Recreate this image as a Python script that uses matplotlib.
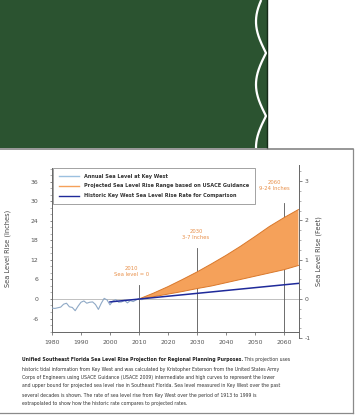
import numpy as np
import matplotlib
matplotlib.use("Agg")
import matplotlib.pyplot as plt
from matplotlib.lines import Line2D

# ---------------- data ----------------
annual_years = list(range(1980, 2013))
annual_vals = [-2.8, -2.9, -2.7, -2.5, -1.6, -1.3, -2.4, -2.6, -3.6, -2.2,
               -1.0, -0.6, -1.3, -1.0, -0.9, -1.7, -3.2, -1.3, 0.2, -0.3,
               -1.8, -0.6, -0.2, -1.0, -0.9, -0.4, -1.2, -0.5, -0.8, -0.3,
               0.1, -0.2, 0.3]

proj_years = [2010, 2015, 2020, 2025, 2030, 2035, 2040, 2045, 2050, 2055, 2060, 2065]
proj_low = [0, 0.7, 1.5, 2.3, 3.2, 4.0, 5.0, 6.0, 7.0, 8.0, 9.0, 10.3]
proj_high = [0, 1.8, 3.8, 6.0, 8.3, 10.8, 13.4, 16.2, 19.2, 22.3, 25.0, 27.5]

hist_years = [2000, 2065]
hist_vals = [-0.9, 4.8]

x_ticks = [1980, 1990, 2000, 2010, 2020, 2030, 2040, 2050, 2060]
y_ticks_in = [-6, 0, 6, 12, 18, 24, 30, 36]
y_ticks_ft = [-1, 0, 1, 2, 3]

legend_labels = ["Annual Sea Level at Key West",
                 "Projected Sea Level Rise Range based on USACE Guidance",
                 "Historic Key West Sea Level Rise Rate for Comparison"]

markers_years = [2010, 2030, 2060]
markers_top = [4.3, 15.7, 29.5]
markers_text = [("2010", "Sea level = 0"), ("2030", "3-7 Inches"), ("2060", "9-24 Inches")]
markers_text_x = [2007.5, 2029.7, 2056.8]
markers_text_y = [10.2, 21.5, 36.6]

caption_bold = "Unified Southeast Florida Sea Level Rise Projection for Regional Planning Purposes."
caption_lines = [
    " This projection uses",
    "historic tidal information from Key West and was calculated by Kristopher Esterson from the United States Army",
    "Corps of Engineers using USACE Guidance (USACE 2009) intermediate and high curves to represent the lower",
    "and upper bound for projected sea level rise in Southeast Florida. Sea level measured in Key West over the past",
    "several decades is shown. The rate of sea level rise from Key West over the period of 1913 to 1999 is",
    "extrapolated to show how the historic rate compares to projected rates.",
]

# ---------------- figure ----------------
W, H = 355, 418
fig = plt.figure(figsize=(W / 100, H / 100), dpi=100)
fig.patch.set_facecolor("white")


def fx(x):
    return x / W


def fy(y):
    return 1 - y / H


# background overlay axes (pixel coordinates)
bg = fig.add_axes([0, 0, 1, 1], zorder=0)
bg.set_xlim(0, W)
bg.set_ylim(H, 0)
bg.axis("off")

GREEN = "#2b5330"
bg.add_patch(plt.Rectangle((0, 0), 267, 148, color=GREEN, lw=0))
bg.plot([267, 267], [0, 148], color="#152a18", lw=1.0)
wy = np.linspace(0, 148, 400)
wx = 266.0 - 10 * np.abs(np.sin(np.pi * (wy + 10) / 63))
bg.plot(wx, wy, color="white", lw=1.6, solid_capstyle="butt")
# frame lines
bg.plot([0, 353], [148.7, 148.7], color="#7a7a7a", lw=1.1)
bg.plot([353, 353], [148.7, 413], color="#8a8a8a", lw=0.9)
bg.plot([0, 353], [413, 413], color="#8a8a8a", lw=0.9)

# ---------------- main chart ----------------
AX_L, AX_R, AX_T, AX_B = 52, 299, 165, 332
ax = fig.add_axes([fx(AX_L), fy(AX_B), (AX_R - AX_L) / W, (AX_B - AX_T) / H], zorder=2)
ax.patch.set_alpha(0)
ax.set_xlim(1980, 2065.2)
ax.set_ylim(-10.15, 41.2)

ORANGE = "#f5a15a"
ORANGE_EDGE = "#d9782b"
ax.fill_between(proj_years, proj_low, proj_high, facecolor=ORANGE, edgecolor="none", zorder=2)
ax.plot(proj_years, proj_low, color=ORANGE_EDGE, lw=0.7, zorder=3)
ax.plot(proj_years, proj_high, color=ORANGE_EDGE, lw=0.7, zorder=3)
ax.axhline(0, color="#b5b5b5", lw=0.6, zorder=1)
ax.plot(annual_years, annual_vals, color="#8fa9c6", lw=0.8, zorder=4)
ax.plot(hist_years, hist_vals, color="#1f2a9a", lw=1.1, zorder=5)

for yr, top in zip(markers_years, markers_top):
    ax.plot([yr, yr], [-10.15, top], color="#555555", lw=0.6, zorder=1)
for (t1, t2), tx, ty in zip(markers_text, markers_text_x, markers_text_y):
    ax.text(tx, ty, t1 + "\n" + t2, ha="center", va="top", fontsize=3.8,
            color="#e8904a", linespacing=1.3, zorder=6)

for s in ["top", "right"]:
    ax.spines[s].set_visible(False)
ax.spines["left"].set_bounds(-10.15, 40.3)
for s in ["left", "bottom"]:
    ax.spines[s].set_color("#666666")
    ax.spines[s].set_linewidth(0.7)

ax.set_xticks(x_ticks)
ax.set_xticklabels([str(v) for v in x_ticks])
ax.set_yticks(y_ticks_in)
ax.set_yticklabels([str(v) for v in y_ticks_in])
ax.set_yticks(np.arange(-10, 41, 2), minor=True)
ax.tick_params(axis="both", labelsize=4.4, colors="#555555", length=1.8, width=0.5, pad=2)
ax.tick_params(axis="y", which="minor", length=1.2, width=0.4, color="#777777")
ax.tick_params(axis="y", pad=8)
ax.tick_params(axis="x", pad=4)
ax.set_ylabel("Sea Level Rise (Inches)", fontsize=4.8, color="#444444", labelpad=14)

# right axis in feet
ax2 = fig.add_axes([fx(AX_L), fy(338), (AX_R - AX_L) / W, (338 - 165) / H], zorder=1)
ax2.patch.set_alpha(0)
ax2.set_ylim(-1.0, 3.41)
ax2.set_xlim(0, 1)
for s in ["top", "left", "bottom"]:
    ax2.spines[s].set_visible(False)
ax2.spines["right"].set_color("#666666")
ax2.spines["right"].set_linewidth(0.7)
ax2.set_xticks([])
ax2.yaxis.tick_right()
ax2.yaxis.set_label_position("right")
ax2.set_yticks(y_ticks_ft)
ax2.set_yticklabels([str(v) for v in y_ticks_ft])
ax2.set_yticks(np.arange(-1, 3.41, 0.25), minor=True)
ax2.tick_params(axis="y", labelsize=4.4, colors="#555555", length=1.8, width=0.5, pad=2)
ax2.tick_params(axis="y", which="minor", length=1.2, width=0.4, color="#777777")
ax2.set_ylabel("Sea Level Rise (Feet)", fontsize=4.8, color="#444444", labelpad=4)

# legend
handles = [Line2D([], [], color="#9cc0e0", lw=1.0),
           Line2D([], [], color=ORANGE, lw=1.0),
           Line2D([], [], color="#1f2a9a", lw=1.0)]
leg = fig.legend(handles, legend_labels, loc="upper left",
                 bbox_to_anchor=(fx(53), fy(168)), fontsize=3.6,
                 frameon=True, fancybox=False, edgecolor="#777777",
                 handlelength=4.0, handletextpad=1.0, labelspacing=0.95,
                 borderpad=1.15, borderaxespad=0)
leg.get_frame().set_linewidth(0.6)
for t in leg.get_texts():
    t.set_color("#333333")
    t.set_fontweight("bold")
leg.set_zorder(10)

# caption
cap_y = [360, 369, 377.5, 386, 395, 404]
fs = 3.35
t_bold = fig.text(fx(22), fy(cap_y[0]), caption_bold, fontsize=fs, fontweight="bold",
                  color="#222222", va="center", ha="left")
fig.canvas.draw()
rend = fig.canvas.get_renderer()
bb = t_bold.get_window_extent(rend)
fig.text(bb.x1 / W, fy(cap_y[0]), caption_lines[0], fontsize=fs, color="#333333",
         va="center", ha="left")
for ln, yy in zip(caption_lines[1:], cap_y[1:]):
    fig.text(fx(22), fy(yy), ln, fontsize=fs, color="#333333", va="center", ha="left")

fig.savefig("out.png", dpi=100)
